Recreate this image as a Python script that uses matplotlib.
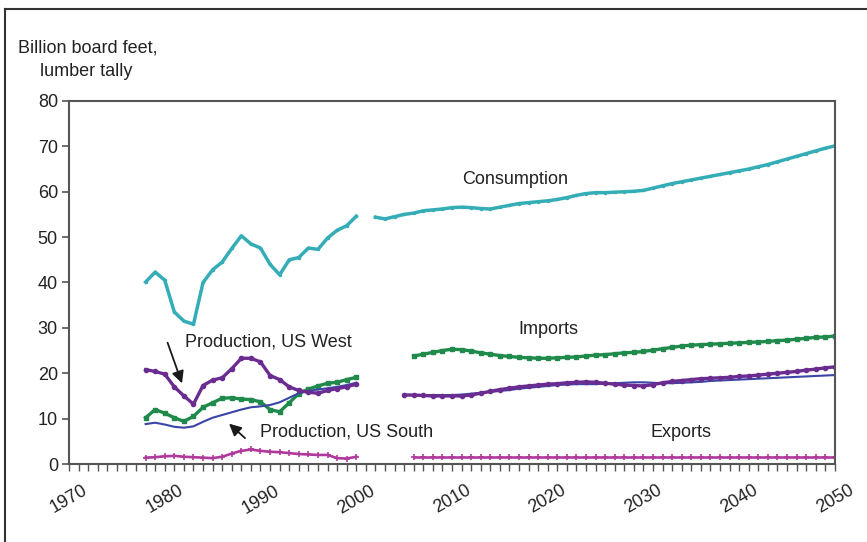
import numpy as np
import matplotlib
matplotlib.use("Agg")
import matplotlib.pyplot as plt
from matplotlib.lines import Line2D

plt.rcParams['font.family'] = ['Liberation Sans', 'DejaVu Sans']

# Historical years and projection years
hist_years = np.arange(1978, 2001)
cons_proj_years = np.arange(2002, 2051)
prod_proj_years = np.arange(2005, 2051)
trade_proj_years = np.arange(2006, 2051)

# Consumption
cons_hist = [40.1, 42.3, 40.5, 33.5, 31.5, 30.8, 40.0, 42.8, 44.5, 47.5, 50.3, 48.5,
             47.6, 44.0, 41.7, 45.0, 45.5, 47.6, 47.3, 49.8, 51.5, 52.5, 54.6]
cons_proj = [54.4, 54.0, 54.5, 55.0, 55.3, 55.8, 56.0, 56.2, 56.5, 56.6, 56.5, 56.3,
             56.2, 56.6, 57.0, 57.4, 57.6, 57.8, 58.0, 58.3, 58.7, 59.2, 59.6, 59.8,
             59.8, 59.9, 60.0, 60.1, 60.3, 60.8, 61.3, 61.8, 62.2, 62.6, 63.0, 63.4,
             63.8, 64.2, 64.6, 65.0, 65.5, 66.0, 66.6, 67.2, 67.8, 68.4, 69.0, 69.6, 70.1]

# Imports
imp_hist = [10.2, 12.0, 11.2, 10.2, 9.4, 10.5, 12.5, 13.5, 14.5, 14.6, 14.3, 14.2,
            13.7, 12.0, 11.5, 13.5, 15.5, 16.5, 17.2, 17.8, 18.0, 18.6, 19.1]
imp_proj = [23.8, 24.2, 24.6, 25.0, 25.3, 25.2, 24.9, 24.5, 24.2, 23.9, 23.7, 23.5,
            23.4, 23.3, 23.3, 23.4, 23.5, 23.6, 23.8, 24.0, 24.1, 24.3, 24.5, 24.6,
            24.8, 25.1, 25.4, 25.7, 26.0, 26.2, 26.3, 26.4, 26.5, 26.6, 26.7, 26.8,
            26.9, 27.0, 27.2, 27.3, 27.5, 27.7, 27.9, 28.0, 28.2]

# Production, US West
west_hist = [20.8, 20.4, 19.8, 17.0, 15.0, 13.2, 17.3, 18.5, 19.0, 21.0, 23.3, 23.3,
             22.5, 19.5, 18.6, 17.0, 16.2, 15.8, 15.6, 16.2, 16.6, 17.0, 17.6]
west_proj = [15.2, 15.2, 15.1, 15.0, 15.0, 15.0, 15.0, 15.2, 15.6, 16.0, 16.4, 16.7,
             17.0, 17.2, 17.4, 17.6, 17.7, 17.9, 18.0, 18.1, 18.0, 17.8, 17.6, 17.4,
             17.3, 17.2, 17.5, 17.9, 18.2, 18.4, 18.6, 18.8, 18.9, 19.0, 19.1, 19.3,
             19.4, 19.6, 19.8, 20.0, 20.2, 20.4, 20.7, 20.9, 21.2, 21.4]

# Production, US South
south_hist = [8.8, 9.1, 8.7, 8.2, 8.0, 8.3, 9.3, 10.2, 10.8, 11.4, 12.0, 12.5,
              12.7, 13.0, 13.6, 14.6, 15.6, 16.1, 16.4, 16.7, 17.0, 17.4, 17.9]
south_proj = [15.2, 15.2, 15.2, 15.2, 15.2, 15.2, 15.3, 15.5, 15.7, 15.9, 16.1, 16.3,
              16.6, 16.8, 17.0, 17.2, 17.4, 17.5, 17.6, 17.6, 17.6, 17.7, 17.8, 17.9,
              18.0, 18.0, 17.9, 17.8, 17.8, 17.9, 18.0, 18.1, 18.3, 18.4, 18.5, 18.6,
              18.7, 18.8, 18.9, 19.0, 19.1, 19.2, 19.3, 19.4, 19.5, 19.6]

# Exports
exp_hist = [1.4, 1.5, 1.7, 1.8, 1.6, 1.5, 1.4, 1.3, 1.6, 2.3, 2.9, 3.2,
            2.9, 2.7, 2.6, 2.4, 2.2, 2.1, 2.0, 2.0, 1.3, 1.2, 1.6]
exp_proj = [1.5, 1.5, 1.5, 1.5, 1.5, 1.5, 1.5, 1.5, 1.5, 1.5, 1.5, 1.5, 1.5, 1.5, 1.5,
            1.5, 1.5, 1.5, 1.5, 1.5, 1.5, 1.5, 1.5, 1.5, 1.5, 1.5, 1.5, 1.5, 1.5, 1.5,
            1.5, 1.5, 1.5, 1.5, 1.5, 1.5, 1.5, 1.5, 1.5, 1.5, 1.5, 1.5, 1.5, 1.5, 1.5]

c_cons = '#34adb6'
c_imp = '#1f8a4c'
c_west = '#6a2c90'
c_south = '#3a45a6'
c_exp = '#b03a9c'

fig = plt.figure(figsize=(8.67, 5.42), dpi=100)
ax = fig.add_axes([0.0796, 0.1439, 0.8834, 0.6698])

# consumption
for x, y in [(hist_years, cons_hist), (cons_proj_years, cons_proj)]:
    ax.plot(x, y, color=c_cons, lw=2.5, marker='.', ms=3)
# imports
for x, y in [(hist_years, imp_hist), (trade_proj_years, imp_proj)]:
    ax.plot(x, y, color=c_imp, lw=2.4, marker='s', ms=3.2)
# production south
for x, y in [(hist_years, south_hist), (prod_proj_years, south_proj)]:
    ax.plot(x, y, color=c_south, lw=1.5)
# production west
for x, y in [(hist_years, west_hist), (prod_proj_years, west_proj)]:
    ax.plot(x, y, color=c_west, lw=2.4, marker='o', ms=3)
# exports
for x, y in [(hist_years, exp_hist), (trade_proj_years, exp_proj)]:
    ax.plot(x, y, color=c_exp, lw=1.9, marker='+', ms=5, mew=1.2)

ax.set_xlim(1970, 2050)
ax.set_ylim(0, 80)
ax.set_yticks(np.arange(0, 81, 10))
ax.set_xticks(np.arange(1970, 2051, 10))
ax.set_xticks(np.arange(1970, 2051, 1), minor=True)
ax.tick_params(axis='y', direction='out', length=5, width=1.2, color='#555555',
               labelsize=13, labelcolor='#222222', pad=3)
ax.tick_params(axis='x', which='both', direction='out', length=5, width=1.0,
               color='#555555', labelsize=13, labelcolor='#222222', pad=8)
for lab in ax.get_xticklabels():
    lab.set_rotation(30)
    lab.set_ha('center')
for s in ax.spines.values():
    s.set_color('#555555')
    s.set_linewidth(1.5)

# annotations
tkw = dict(fontsize=13, color='#222222', ha='center', va='center')
ax.text(2016.6, 62.8, 'Consumption', **tkw)
ax.text(2020.1, 29.7, 'Imports', **tkw)
ax.text(2033.9, 7.0, 'Exports', **tkw)
ax.text(1990.8, 26.9, 'Production, US West', **tkw)
ax.text(1999.0, 7.0, 'Production, US South', **tkw)
akw = dict(arrowstyle='-|>', color='#1a1a1a', lw=1.3, mutation_scale=18)
ax.annotate('', xy=(1981.9, 17.2), xytext=(1980.2, 27.3), arrowprops=akw)
ax.annotate('', xy=(1986.5, 9.3), xytext=(1988.6, 5.3), arrowprops=akw)

# y-axis title
fig.text(18 / 867, 1 - 48 / 542, 'Billion board feet,', fontsize=13, color='#222222',
         ha='left', va='center')
fig.text(40 / 867, 1 - 72 / 542, 'lumber tally', fontsize=13, color='#222222',
         ha='left', va='center')

# outer frame (top and left edges)
fig.add_artist(Line2D([5 / 867, 5 / 867], [0, 1 - 9 / 542], color='#333333', lw=1.5))
fig.add_artist(Line2D([5 / 867, 1], [1 - 9 / 542, 1 - 9 / 542], color='#333333', lw=1.5))

fig.savefig('out.png', dpi=100)
